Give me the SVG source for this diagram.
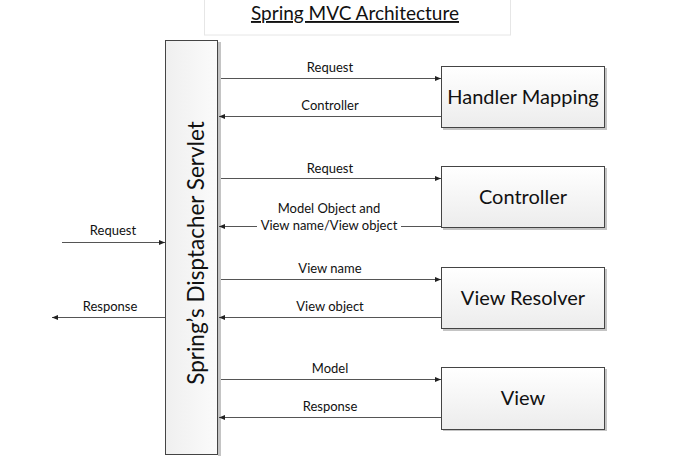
<svg xmlns="http://www.w3.org/2000/svg" width="692" height="473" viewBox="0 0 692 473">
  <defs>
    <linearGradient id="boxFill" x1="0" y1="0" x2="0" y2="1">
      <stop offset="0" stop-color="#ffffff"/>
      <stop offset="1" stop-color="#ececec"/>
    </linearGradient>
    <linearGradient id="servletFill" x1="0" y1="0" x2="1" y2="0">
      <stop offset="0" stop-color="#efefef"/>
      <stop offset="1" stop-color="#fbfbfb"/>
    </linearGradient>
    <marker id="arrow" viewBox="0 0 10 10" refX="10" refY="5" markerWidth="6" markerHeight="6" orient="auto" markerUnits="userSpaceOnUse">
      <path d="M0,1 L10,5 L0,9 z" fill="#222"/>
    </marker>
  </defs>
  <style>
    .box { fill: url(#boxFill); stroke: #444; stroke-width: 1; }
    .shadow { fill: #c4c4c4; }
    .boxLabel { font-family: Lato, "Liberation Sans", sans-serif; font-size: 20px; fill: #111; text-anchor: middle; }
    .edgeLabel { font-family: Lato, "Liberation Sans", sans-serif; font-size: 13px; fill: #111; text-anchor: middle; }
    .edge { stroke: #555; stroke-width: 1; fill: none; marker-end: url(#arrow); }
  </style>

  <rect width="692" height="473" fill="#ffffff"/>

  <!-- title -->
  <g id="title">
    <rect x="204.5" y="-1" width="306" height="36" fill="#ffffff" stroke="#e6e6e6"/>
    <text x="355" y="20" font-family="Lato, 'Liberation Sans', sans-serif" font-size="19" text-anchor="middle" fill="#111" text-decoration="underline">Spring MVC Architecture</text>
  </g>

  <!-- dispatcher servlet -->
  <g id="dispatcher-servlet">
    <rect x="218" y="42" width="3" height="414" class="shadow"/>
    <rect x="165.5" y="40.5" width="52" height="414" fill="url(#servletFill)" stroke="#444"/>
    <text transform="translate(204,253) rotate(-90)" font-family="Lato, 'Liberation Sans', sans-serif" font-size="22.5" text-anchor="middle" fill="#111">Spring’s Disptacher Servlet</text>
  </g>

  <!-- handler mapping -->
  <g id="handler-mapping">
    <rect x="443" y="68" width="164" height="62" class="shadow"/>
    <rect x="441.5" y="66.5" width="163" height="61" class="box"/>
    <text x="523" y="104" class="boxLabel">Handler Mapping</text>
  </g>

  <!-- controller -->
  <g id="controller">
    <rect x="443" y="168" width="164" height="62" class="shadow"/>
    <rect x="441.5" y="166.5" width="163" height="61" class="box"/>
    <text x="523" y="204" class="boxLabel">Controller</text>
  </g>

  <!-- view resolver -->
  <g id="view-resolver">
    <rect x="443" y="269" width="164" height="62" class="shadow"/>
    <rect x="441.5" y="267.5" width="163" height="61" class="box"/>
    <text x="523" y="305" class="boxLabel">View Resolver</text>
  </g>

  <!-- view -->
  <g id="view">
    <rect x="443" y="369" width="164" height="62" class="shadow"/>
    <rect x="441.5" y="367.5" width="163" height="62" class="box"/>
    <text x="523" y="405" class="boxLabel">View</text>
  </g>

  <!-- connectors -->
  <g id="connectors">
    <line x1="62" y1="242.5" x2="165" y2="242.5" class="edge"/>
    <line x1="165" y1="317.5" x2="52" y2="317.5" class="edge"/>

    <line x1="221" y1="78.5" x2="441" y2="78.5" class="edge"/>
    <line x1="441" y1="116.5" x2="219" y2="116.5" class="edge"/>

    <line x1="221" y1="178.5" x2="441" y2="178.5" class="edge"/>
    <line x1="441" y1="226.5" x2="401" y2="226.5" stroke="#555"/>
    <line x1="257" y1="226.5" x2="219" y2="226.5" class="edge"/>

    <line x1="221" y1="279.5" x2="441" y2="279.5" class="edge"/>
    <line x1="441" y1="317.5" x2="219" y2="317.5" class="edge"/>

    <line x1="221" y1="379.5" x2="441" y2="379.5" class="edge"/>
    <line x1="441" y1="417.5" x2="219" y2="417.5" class="edge"/>
  </g>

  <!-- connector labels -->
  <g id="connector-labels">
    <text x="113" y="235" class="edgeLabel">Request</text>
    <text x="110" y="311" class="edgeLabel">Response</text>
    <text x="330" y="72" class="edgeLabel">Request</text>
    <text x="330" y="110" class="edgeLabel">Controller</text>
    <text x="330" y="173" class="edgeLabel">Request</text>
    <text x="329" y="213" class="edgeLabel">Model Object and</text>
    <text x="329" y="230" class="edgeLabel">View name/View object</text>
    <text x="330" y="273" class="edgeLabel">View name</text>
    <text x="330" y="311" class="edgeLabel">View object</text>
    <text x="330" y="373" class="edgeLabel">Model</text>
    <text x="330" y="411" class="edgeLabel">Response</text>
  </g>
</svg>
